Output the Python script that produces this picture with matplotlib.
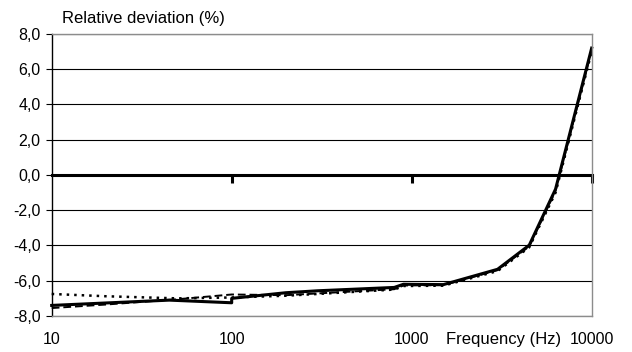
#Relative deviation vs frequency

import matplotlib
matplotlib.use('Agg')
import matplotlib.pyplot as plt
from matplotlib.ticker import NullLocator

plt.rcParams['font.family'] = ['Liberation Sans', 'DejaVu Sans']

# solid series
freq_a = [10, 45, 100, 100, 200, 300, 800, 900, 1500, 3000, 4500, 6300, 10000]
dev_a = [-7.4, -7.1, -7.25, -7.0, -6.68, -6.57, -6.38, -6.2, -6.22, -5.35, -3.98, -0.8, 7.2]

# dotted series
freq_b = [10, 20, 50, 100, 200, 300, 800, 900, 1500, 3000, 4500, 6300, 10000]
dev_b = [-6.75, -6.88, -7.0, -6.95, -6.85, -6.75, -6.5, -6.3, -6.28, -5.45, -4.1, -1.0, 7.0]

# dashed series
freq_c = [10, 20, 50, 100, 200, 300, 800, 900, 1500, 3000, 4500, 6300, 10000]
dev_c = [-7.55, -7.35, -7.05, -6.78, -6.82, -6.72, -6.48, -6.27, -6.25, -5.4, -4.05, -0.9, 7.1]

x_ticks = [10, 100, 1000, 10000]
x_labels = ['10', '100', '1000', '10000']
zero_ticks = [100, 1000, 10000]
y_ticks = [-8, -6, -4, -2, 0, 2, 4, 6, 8]
y_labels = ['-8,0', '-6,0', '-4,0', '-2,0', '0,0', '2,0', '4,0', '6,0', '8,0']

fs = 11.5

fig = plt.figure(figsize=(6.32, 3.52), dpi=100)
ax = fig.add_axes([0.0818, 0.1023, 0.8544, 0.8011])

ax.set_xscale('log')
ax.set_xlim(10, 10000)
ax.set_ylim(-8, 8)

ax.grid(True, axis='y', color='black', linewidth=0.8)
ax.set_axisbelow(True)

ax.plot(freq_b, dev_b, linestyle=(0, (1, 2)), linewidth=1.8, color='black', clip_on=False)
ax.plot(freq_c, dev_c, linestyle=(0, (4, 2)), linewidth=1.4, color='black', clip_on=False)
ax.plot(freq_a, dev_a, linestyle='-', linewidth=2.2, color='black', clip_on=False)

ax.set_yticks(y_ticks)
ax.set_yticklabels(y_labels, fontsize=fs)
ax.tick_params(axis='y', direction='out', length=4, width=0.8, pad=4)

ax.set_xticks(x_ticks)
ax.set_xticklabels(x_labels, fontsize=fs)
ax.xaxis.set_minor_locator(NullLocator())
ax.tick_params(axis='x', length=0, pad=11.5)

for s in ['top', 'right', 'bottom']:
    ax.spines[s].set_color('#8c8c8c')
    ax.spines[s].set_linewidth(1.0)
ax.spines['left'].set_color('black')
ax.spines['left'].set_linewidth(1.0)

# thick zero axis with ticks
sec = ax.secondary_xaxis(0.5)
sec.set_xticks(zero_ticks)
sec.set_xticklabels(['' for t in zero_ticks])
sec.xaxis.set_minor_locator(NullLocator())
sec.tick_params(axis='x', direction='in', length=6, width=2.2)
for s in sec.spines.values():
    s.set_linewidth(2.2)
    s.set_color('black')

ax.text(0.019, 1.055, 'Relative deviation (%)', transform=ax.transAxes,
        ha='left', va='center', fontsize=12)
ax.text(0.837, -0.057, 'Frequency (Hz)', transform=ax.transAxes,
        ha='center', va='top', fontsize=12)

fig.savefig('out.png', dpi=100)
